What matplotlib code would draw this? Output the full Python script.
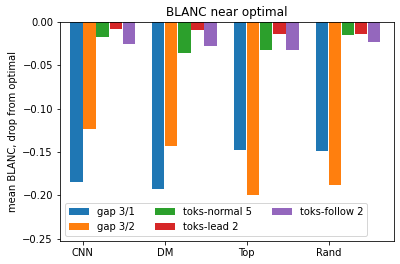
import matplotlib
matplotlib.use("Agg")
import matplotlib.pyplot as plt
import numpy as np

categories = ["CNN", "DM", "Top", "Rand"]
series_names = ["gap 3/1", "gap 3/2", "toks-normal 5", "toks-lead 2", "toks-follow 2"]
gap31 = [-0.184, -0.193, -0.148, -0.149]
gap32 = [-0.123, -0.143, -0.1995, -0.188]
toks_normal5 = [-0.0172, -0.0356, -0.032, -0.0149]
toks_lead2 = [-0.008, -0.0092, -0.0138, -0.0138]
toks_follow2 = [-0.026, -0.0275, -0.032, -0.023]
series = [gap31, gap32, toks_normal5, toks_lead2, toks_follow2]
colors = ["#1f77b4", "#ff7f0e", "#2ca02c", "#d62728", "#9467bd"]

fig = plt.figure(figsize=(400/72, 264/72), dpi=72)
ax = fig.add_axes([0.15, 0.089, 0.835, 0.828])
x = np.arange(len(categories))
step = 0.16
width = 0.15
for i, (name, vals) in enumerate(zip(series_names, series)):
    ax.bar(x + (i - 0.5) * step, vals, width, label=name, color=colors[i])
ax.set_xticks(x)
ax.set_xticklabels(categories)
ax.set_xlim(-0.28, 3.80)
ax.set_ylim(-0.252, 0.0)
ax.set_yticks([0.0, -0.05, -0.10, -0.15, -0.20, -0.25])
ax.set_ylabel("mean BLANC, drop from optimal")
ax.set_title("BLANC near optimal")
ax.legend(ncol=3, loc="lower left")
fig.savefig("out.png", dpi=72)
